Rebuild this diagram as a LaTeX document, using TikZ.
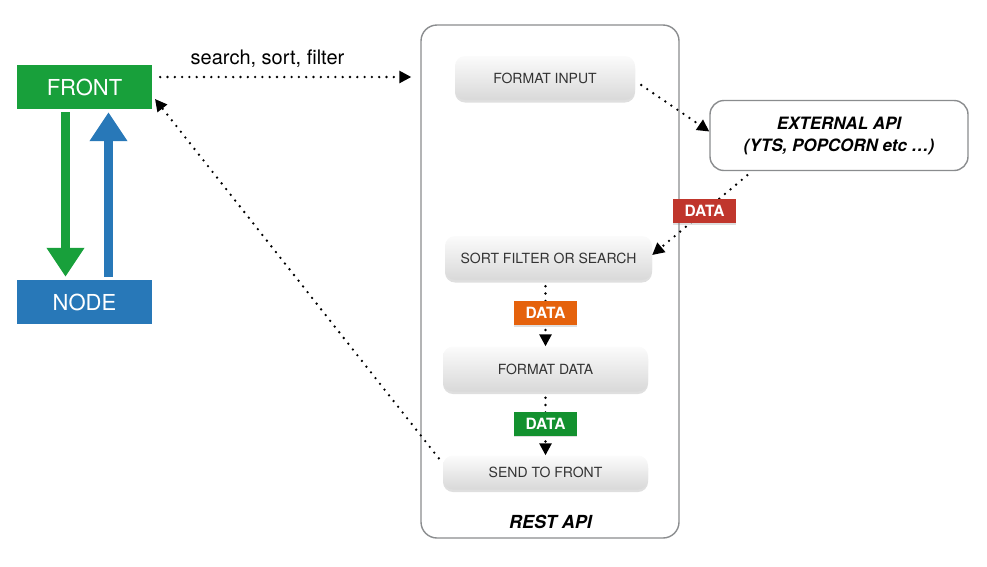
\documentclass[tikz,border=0pt]{standalone}
\usepackage{fontspec}
\setmainfont{TeX Gyre Heros}
\usetikzlibrary{arrows.meta,shadows}

\definecolor{frontgreen}{HTML}{18A03B}
\definecolor{nodeblue}{HTML}{2878B8}
\definecolor{datared}{HTML}{C0362C}
\definecolor{dataorange}{HTML}{E5620C}
\definecolor{datagreen}{HTML}{13912F}
\definecolor{framegray}{HTML}{8A8C8E}

\begin{document}
\begin{tikzpicture}[
		x=1pt, y=-1pt,
		% 点线箭头的统一样式
		dotline/.style={line width=2.6pt, line cap=round, dash pattern=on 0pt off 7.3pt, -{Triangle[length=12pt,width=12pt]}},
		% 粗箭头
		bigarrow/.style={line width=9pt, -{Triangle[length=29pt,width=36pt]}},
		% 左侧的彩色方块
		solidbox/.style={minimum width=135pt, minimum height=44pt, inner sep=0pt, text=white, font=\fontsize{22}{24}\selectfont},
		% 灰色渐变步骤框
		stepbox/.style={rounded corners=10pt, inner sep=0pt, top color=gray!3, bottom color=gray!30, drop shadow={shadow xshift=0pt, shadow yshift=-2.5pt, opacity=0.25}, text=black!80, font=\fontsize{14}{16}\selectfont},
		% DATA 标签
		datatag/.style={minimum width=63pt, minimum height=24pt, inner sep=0pt, text=white, font=\bfseries\fontsize{15.5}{17}\selectfont, drop shadow={shadow xshift=0pt, shadow yshift=-1.5pt, opacity=0.25}}
	]
	\useasboundingbox (0,0) rectangle (987,566);
	
	% ----- 1. 左侧 FRONT 与 NODE -----
	\node[solidbox, fill=frontgreen] (front) at (84.5,87) {FRONT};
	\node[solidbox, fill=nodeblue] (backend) at (84.5,302) {NODE};
	
	\draw[bigarrow, frontgreen, shorten <=3pt, shorten >=3pt] ([xshift=-19pt]front.south) -- ([xshift=-19pt]backend.north);
	\draw[bigarrow, nodeblue, shorten <=3pt, shorten >=3pt] ([xshift=24pt]backend.north) -- ([xshift=24pt]front.south);
	
	% ----- 2. REST API 外框 -----
	\node[draw=framegray, line width=1.4pt, rounded corners=16pt, minimum width=258pt, minimum height=513pt] (rest) at (550,281.5) {};
	\node[font=\bfseries\itshape\fontsize{18}{20}\selectfont] (restlabel) at (550.5,522) {REST API};
	
	% ----- 3. 步骤框 -----
	\node[stepbox, minimum width=180pt, minimum height=44pt] (formatin) at (545,78) {FORMAT INPUT};
	\node[stepbox, minimum width=207pt, minimum height=44pt] (sort) at (548.5,258) {SORT FILTER OR SEARCH};
	\node[stepbox, minimum width=205pt, minimum height=45pt] (formatdata) at (545.5,369) {FORMAT DATA};
	\node[stepbox, minimum width=205pt, minimum height=34pt] (sendfront) at (545.5,472.5) {SEND TO FRONT};
	
	% ----- 4. 外部 API -----
	\node[draw=framegray, line width=1.4pt, rounded corners=14pt, fill=white, minimum width=258pt, minimum height=70pt, align=center, font=\bfseries\itshape\fontsize{17}{22}\selectfont] (external) at (839,135.5) {EXTERNAL API\\(YTS, POPCORN etc …)};
	
	% ----- 5. 点线箭头 -----
	\draw[dotline, shorten <=8pt, shorten >=9pt] ([yshift=10pt]front.east) -- ([yshift=10pt]front.east -| rest.west)
		node[pos=0.43, above=5pt, font=\fontsize{20}{22}\selectfont] (searchlabel) {search, sort, filter};
	
	\coordinate (backtip) at (155,99);
	\draw[dotline] ([shift={(-4pt,-3pt)}]sendfront.north west) -- (backtip);
	
	\draw[dotline] ([shift={(6pt,-7pt)}]formatin.east) -- ([yshift=4pt]external.west);
	
	\draw[dotline] ([shift={(38pt,-4pt)}]external.south west) -- ([yshift=3pt]sort.east)
		node[pos=0.45, datatag, fill=datared] (tagred) {DATA};
	
	\draw[dotline, shorten <=6pt] (sort.south -| formatdata.north) -- (formatdata.north)
		node[midway, datatag, fill=dataorange] (tagorange) {DATA};
	
	\draw[dotline, shorten <=6pt] (formatdata.south) -- (sendfront.north)
		node[midway, datatag, fill=datagreen] (taggreen) {DATA};
	
\end{tikzpicture}
\end{document}
